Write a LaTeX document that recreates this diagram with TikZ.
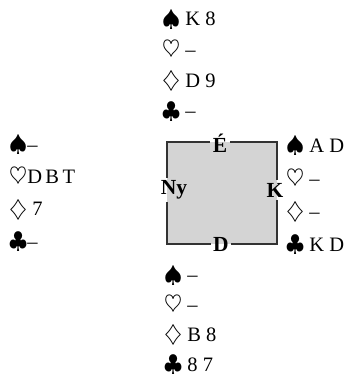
\documentclass[tikz,border=0pt]{standalone}
\usepackage{graphicx}
\usepackage{fontspec}
\setmainfont{Liberation Serif}
\newcommand{\suit}[1]{\raisebox{-0.3pt}{\scalebox{1.12}{$#1$}}}
\tikzset{
	hand/.style={font=\fontsize{20.5}{#1}\selectfont, align=left, anchor=base west, inner sep=0pt},
	seat/.style={font=\fontsize{21.5}{24}\selectfont\bfseries, inner sep=2.5pt},
	rim/.style={line width=1.3pt, black!80, line join=miter},
}
\begin{document}
\begin{tikzpicture}[x=1pt,y=-1pt]
	\useasboundingbox (0,0) rectangle (354,374);
	% the table
	\coordinate (nw) at (167,142);
	\coordinate (ne) at (277,142);
	\coordinate (se) at (277,244);
	\coordinate (sw) at (167,244);
	\fill[black!17] (nw) rectangle (se);
	\draw (220,143) node[seat] (E) {É};
	\draw (174,190) node[seat] (Ny) {Ny};
	\draw (275,190) node[seat] (K) {K};
	\draw (221,244) node[seat] (D) {D};
	\draw[rim] (Ny.north -| nw) -- (nw) -- (E.west |- nw) (E.east |- ne) -- (ne) -- (K.north -| ne)
		(K.south -| se) -- (se) -- (D.east |- se) (D.west |- sw) -- (sw) -- (Ny.south -| sw);
	% the hands (placed at the baseline of their last line)
	\draw (162,118) node[hand=30.7] (hE) {\suit\spadesuit\ K 8\\ \suit\heartsuit\ –\\ \suit\diamondsuit\ D 9\\ \suit\clubsuit\ –};
	\draw (9,248) node[hand=32.3] (hNy) {\suit\spadesuit–\\ \suit\heartsuit D\,B\,T\\ \suit\diamondsuit\ 7\\ \suit\clubsuit–};
	\draw (286,251) node[hand=33] (hK) {\suit\spadesuit\ A D\\ \suit\heartsuit\ –\\ \suit\diamondsuit\ –\\ \suit\clubsuit\ K D};
	\draw (164,371) node[hand=29.7] (hD) {\suit\spadesuit\ –\\ \suit\heartsuit\ –\\ \suit\diamondsuit\ B 8\\ \suit\clubsuit\ 8 7};
\end{tikzpicture}
\end{document}
